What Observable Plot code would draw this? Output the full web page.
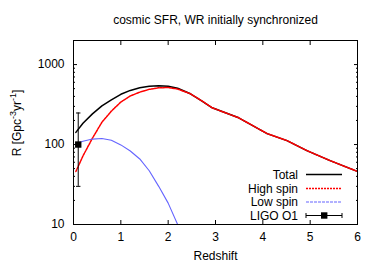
<!DOCTYPE html>
<html><head><meta charset="utf-8">
<script src="https://cdn.jsdelivr.net/npm/d3@7"></script>
<script src="https://cdn.jsdelivr.net/npm/@observablehq/plot@0.6"></script>
<style>
body{margin:0;background:#fff}
svg{font-family:"Liberation Sans",Arial,Helvetica,sans-serif}
</style>
</head><body><div id="chart"></div>
<script>
const title = "cosmic SFR, WR initially synchronized";
const xLabel = "Redshift";
const seriesNames = ["Total", "High spin", "Low spin", "LIGO O1"];
const xTicks = [0, 1, 2, 3, 4, 5, 6];
const yTicks = [10, 100, 1000];
const yMinor = [20, 30, 40, 50, 60, 70, 80, 90, 200, 300, 400, 500, 600, 700, 800, 900, 2000];

const redshift = [0.05, 0.2, 0.4, 0.6, 0.8, 1.0, 1.2, 1.4, 1.6, 1.8, 2.0, 2.2, 2.47, 2.7, 2.93, 3.49, 4.09, 4.51, 4.93, 5.42, 6.0];
const totalRate = [142, 185, 242, 305, 362, 425, 475, 512, 535, 545, 535, 505, 431, 355, 288, 216, 137, 112, 84, 63, 46];
const highSpinRate = [46, 72, 120, 190, 262, 340, 405, 452, 490, 513, 516, 495, 431, 355, 288, 216, 137, 112, 84, 63, 46];
const lowSpinZ = [0.05, 0.2, 0.4, 0.6, 0.8, 1.0, 1.2, 1.4, 1.6, 1.8, 2.0, 2.2];
const lowSpinRate = [102, 110, 117, 119, 113, 99, 83, 66, 47, 30, 18.5, 10];

const ligoZ = [0.1];
const ligoRate = [100];
const ligoLow = [30];
const ligoHigh = [248];

const model = redshift.map((z, i) => ({z, total: totalRate[i], high: highSpinRate[i]}));
const low = lowSpinZ.map((z, i) => ({z, r: lowSpinRate[i]}));
const ligo = ligoZ.map((z, i) => ({z, r: ligoRate[i], lo: ligoLow[i], hi: ligoHigh[i]}));

const capSymbol = {draw(ctx, size) { const w = Math.sqrt(size) / 2; ctx.moveTo(-w, 0); ctx.lineTo(w, 0); }};

const colors = {total: "#000000", high: "#ff0000", low: "#6464ff"};

const plot = Plot.plot({
  width: 382, height: 267,
  marginLeft: 73, marginRight: 25, marginTop: 40, marginBottom: 43,
  style: {fontFamily: '"Liberation Sans", Arial, sans-serif', fontSize: "12px", background: "white", color: "black", overflow: "visible"},
  x: {domain: [0, 6], label: null},
  y: {type: "log", domain: [10, 2000], label: null},
  marks: [
    Plot.axisX(xTicks, {anchor: "bottom", tickSize: -4, tickPadding: 12, tickFormat: d => String(d), label: null, fontSize: 12}),
    Plot.axisX(xTicks, {anchor: "top", tickSize: -4, tickFormat: () => "", label: null}),
    Plot.axisY(yTicks, {anchor: "left", tickSize: -4, tickPadding: 13, tickFormat: d => String(d), label: null, fontSize: 12}),
    Plot.axisY(yTicks, {anchor: "right", tickSize: -4, tickFormat: () => "", label: null}),
    Plot.axisY(yMinor, {anchor: "left", tickSize: -2, tickFormat: () => "", label: null}),
    Plot.axisY(yMinor, {anchor: "right", tickSize: -2, tickFormat: () => "", label: null}),
    Plot.line(model, {x: "z", y: "total", stroke: colors.total, strokeWidth: 1.5, clip: true}),
    Plot.line(model, {x: "z", y: "high", stroke: colors.high, strokeWidth: 1.5, strokeDasharray: "2,1", clip: true}),
    Plot.line(low, {x: "z", y: "r", stroke: colors.low, strokeWidth: 1.1, clip: true}),
    Plot.ruleX(ligo, {x: "z", y1: "lo", y2: "hi", stroke: "black", strokeWidth: 1}),
    Plot.dot(ligo, {x: "z", y: "lo", symbol: capSymbol, r: 2.5, stroke: "black", strokeWidth: 1}),
    Plot.dot(ligo, {x: "z", y: "hi", symbol: capSymbol, r: 2.5, stroke: "black", strokeWidth: 1}),
    Plot.dot(ligo, {x: "z", y: "r", symbol: "square", r: 3.6, fill: "black", stroke: null}),
    Plot.frame({stroke: "black", strokeWidth: 1}),
    Plot.text([title], {frameAnchor: "top", dy: -20, lineAnchor: "middle", fontSize: 12}),
    Plot.text([xLabel], {frameAnchor: "bottom", dy: 32, lineAnchor: "middle", fontSize: 12})
  ]
});

document.getElementById("chart").appendChild(plot);

const svg = d3.select(plot);
// y axis label with superscripts
const yl = svg.append("text")
  .attr("transform", "translate(21,123) rotate(-90)")
  .attr("text-anchor", "middle")
  .attr("font-size", 12)
  .attr("fill", "black");
yl.append("tspan").text("R [Gpc");
yl.append("tspan").attr("dy", -5).attr("font-size", 9).text("-3");
yl.append("tspan").attr("dy", 5).text("yr");
yl.append("tspan").attr("dy", -5).attr("font-size", 9).text("-1");
yl.append("tspan").attr("dy", 5).text("]");

// legend
const lg = svg.append("g").attr("font-size", 12);
const rows = [174.5, 188.5, 202, 215.5];
const styles = [
  {stroke: colors.total, dash: null, w: 1.5},
  {stroke: colors.high, dash: "2,1", w: 1.5},
  {stroke: colors.low, dash: "3,1", w: 1.1}
];
seriesNames.forEach((name, i) => {
  lg.append("text").attr("x", 298).attr("y", rows[i]).attr("dy", "0.35em")
    .attr("text-anchor", "end").attr("fill", "black").text(name);
  if (i < 3) {
    lg.append("line").attr("x1", 306).attr("x2", 342).attr("y1", rows[i]).attr("y2", rows[i])
      .attr("stroke", styles[i].stroke).attr("stroke-width", styles[i].w)
      .attr("stroke-dasharray", styles[i].dash);
  } else {
    const y = rows[i];
    lg.append("line").attr("x1", 306).attr("x2", 342).attr("y1", y).attr("y2", y).attr("stroke", "black");
    lg.append("line").attr("x1", 306).attr("x2", 306).attr("y1", y - 2.5).attr("y2", y + 2.5).attr("stroke", "black");
    lg.append("line").attr("x1", 342).attr("x2", 342).attr("y1", y - 2.5).attr("y2", y + 2.5).attr("stroke", "black");
    lg.append("rect").attr("x", 321).attr("y", y - 3.2).attr("width", 6.4).attr("height", 6.4).attr("fill", "black");
  }
});
</script>
</body></html>
